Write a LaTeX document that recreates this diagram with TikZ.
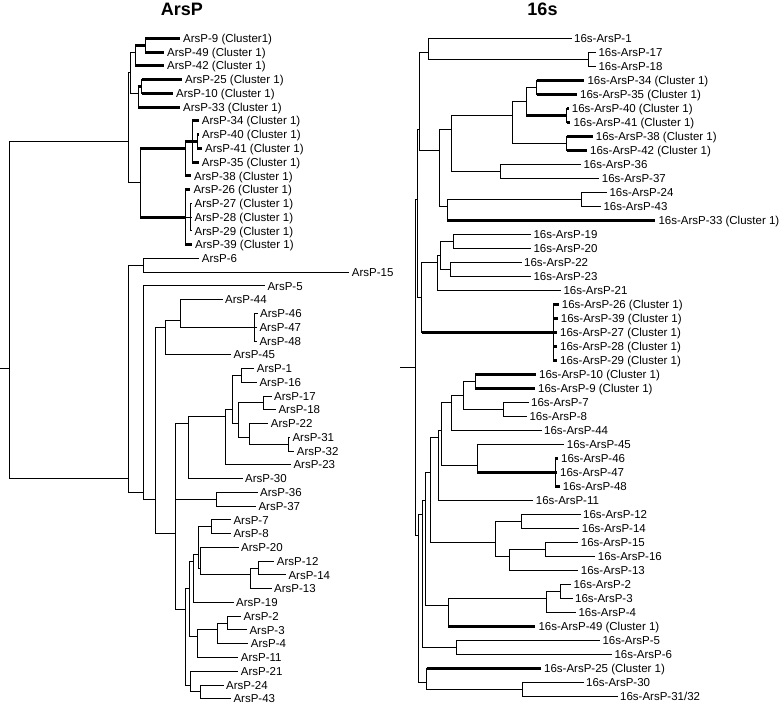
\documentclass[tikz,border=0pt]{standalone}
\usepackage{fontspec}
\setmainfont{Liberation Sans}
\newcommand\Ly[1]{(38.3+13.76*(#1))}
\newcommand\Ry[1]{(38.3+14.0*(#1))}
\newcommand\br[3][]{\draw[tl] (#2) -- (#2 |- #3); \draw[tl,#1] (#2 |- #3) -- (#3);}
\tikzset{
  tl/.style={line width=1pt, line cap=rect},
  thk/.style={line width=3pt, line cap=butt},
  lab/.style={anchor=west, inner xsep=3pt, inner ysep=0pt, text height=8.2pt, text depth=0pt, font=\fontsize{11.5}{13}\selectfont},
  ttl/.style={inner sep=0pt, font=\fontsize{18}{20}\selectfont\bfseries}
}
\begin{document}
\begin{tikzpicture}[x=1pt,y=-1pt]
\useasboundingbox (0,0) rectangle (779,704);
\node[ttl] (tA) at (182,9) {ArsP};
\node[ttl] (tB) at (542.5,9) {16s};
% ================= LEFT TREE =================
\coordinate (aR0) at (0,{\Ly{24}});
\coordinate (aRoot) at (9,{\Ly{24}});
\coordinate (aTop) at (128,{\Ly{7.5}});
\coordinate (aUp) at (130,{\Ly{2.5}});
\coordinate (a942) at (135,{\Ly{1}});
\coordinate (a949) at (145,{\Ly{0.5}});
\coordinate (a2533) at (138.3,{\Ly{4}});
\coordinate (a2510) at (141.7,{\Ly{3.5}});
\coordinate (aLow) at (140,{\Ly{10.5}});
\coordinate (aB) at (185,{\Ly{8}});
\coordinate (aA) at (192,{\Ly{7.5}});
\coordinate (a4041) at (197,{\Ly{7.5}});
\coordinate (aC) at (185,{\Ly{13}});
\coordinate (a2729) at (190.5,{\Ly{13}});
\coordinate (aBot) at (128,{\Ly{32}});
\coordinate (a615) at (143.3,{\Ly{16.5}});
\coordinate (aB2) at (143.3,{\Ly{33}});
\coordinate (aB3) at (155,{\Ly{33.5}});
\coordinate (a44c) at (165,{\Ly{21}});
\coordinate (a4448) at (180.7,{\Ly{20.5}});
\coordinate (a4648) at (254,{\Ly{21}});
\coordinate (aB4) at (175.7,{\Ly{36}});
\coordinate (aC1) at (188.3,{\Ly{28}});
\coordinate (aC1a) at (225,{\Ly{27.5}});
\coordinate (aC1b) at (232.3,{\Ly{27}});
\coordinate (a116) at (241.7,{\Ly{24.5}});
\coordinate (aC1c) at (238.3,{\Ly{28}});
\coordinate (a1718) at (263.3,{\Ly{26.5}});
\coordinate (a2232) at (249.3,{\Ly{29}});
\coordinate (a3132) at (288.3,{\Ly{29.5}});
\coordinate (a3637) at (216.7,{\Ly{33.5}});
\coordinate (aC3) at (185,{\Ly{41.5}});
\coordinate (aC3a) at (189.3,{\Ly{40}});
\coordinate (aC3b) at (193.3,{\Ly{38}});
\coordinate (aC3c) at (198,{\Ly{37.5}});
\coordinate (a78) at (211.7,{\Ly{35.5}});
\coordinate (aC3d) at (200,{\Ly{38.5}});
\coordinate (a121413) at (250,{\Ly{39}});
\coordinate (a1214) at (258.3,{\Ly{38.5}});
\coordinate (a2311) at (197.7,{\Ly{43.5}});
\coordinate (a234) at (217.3,{\Ly{43}});
\coordinate (a23) at (227.7,{\Ly{42.5}});
\coordinate (a2143) at (190,{\Ly{47}});
\coordinate (a2443) at (200,{\Ly{47.5}});
% left leaves
\node[lab] (aL9) at (180,{\Ly{0}}) {ArsP-9 (Cluster1)};
\node[lab] (aL49) at (164,{\Ly{1}}) {ArsP-49 (Cluster 1)};
\node[lab] (aL42) at (164,{\Ly{2}}) {ArsP-42 (Cluster 1)};
\node[lab] (aL25) at (182,{\Ly{3}}) {ArsP-25 (Cluster 1)};
\node[lab] (aL10) at (173,{\Ly{4}}) {ArsP-10 (Cluster 1)};
\node[lab] (aL33) at (180,{\Ly{5}}) {ArsP-33 (Cluster 1)};
\node[lab] (aL34) at (198.7,{\Ly{6}}) {ArsP-34 (Cluster 1)};
\node[lab] (aL40) at (199,{\Ly{7}}) {ArsP-40 (Cluster 1)};
\node[lab] (aL41) at (202,{\Ly{8}}) {ArsP-41 (Cluster 1)};
\node[lab] (aL35) at (198.7,{\Ly{9}}) {ArsP-35 (Cluster 1)};
\node[lab] (aL38) at (191,{\Ly{10}}) {ArsP-38 (Cluster 1)};
\node[lab] (aL26) at (190.3,{\Ly{11}}) {ArsP-26 (Cluster 1)};
\node[lab] (aL27) at (191.5,{\Ly{12}}) {ArsP-27 (Cluster 1)};
\node[lab] (aL28) at (191.5,{\Ly{13}}) {ArsP-28 (Cluster 1)};
\node[lab] (aL29) at (191.5,{\Ly{14}}) {ArsP-29 (Cluster 1)};
\node[lab] (aL39) at (192,{\Ly{15}}) {ArsP-39 (Cluster 1)};
\node[lab] (aL6) at (198.7,{\Ly{16}}) {ArsP-6};
\node[lab] (aL15) at (348.7,{\Ly{17}}) {ArsP-15};
\node[lab] (aL5) at (264.3,{\Ly{18}}) {ArsP-5};
\node[lab] (aL44) at (222,{\Ly{19}}) {ArsP-44};
\node[lab] (aL46) at (257,{\Ly{20}}) {ArsP-46};
\node[lab] (aL47) at (256.3,{\Ly{21}}) {ArsP-47};
\node[lab] (aL48) at (256.3,{\Ly{22}}) {ArsP-48};
\node[lab] (aL45) at (230.3,{\Ly{23}}) {ArsP-45};
\node[lab] (aL1) at (253.7,{\Ly{24}}) {ArsP-1};
\node[lab] (aL16) at (256.3,{\Ly{25}}) {ArsP-16};
\node[lab] (aL17) at (271,{\Ly{26}}) {ArsP-17};
\node[lab] (aL18) at (275.3,{\Ly{27}}) {ArsP-18};
\node[lab] (aL22) at (267.7,{\Ly{28}}) {ArsP-22};
\node[lab] (aL31) at (289.3,{\Ly{29}}) {ArsP-31};
\node[lab] (aL32) at (293.7,{\Ly{30}}) {ArsP-32};
\node[lab] (aL23) at (290.3,{\Ly{31}}) {ArsP-23};
\node[lab] (aL30) at (242,{\Ly{32}}) {ArsP-30};
\node[lab] (aL36) at (257,{\Ly{33}}) {ArsP-36};
\node[lab] (aL37) at (255.3,{\Ly{34}}) {ArsP-37};
\node[lab] (aL7) at (230.3,{\Ly{35}}) {ArsP-7};
\node[lab] (aL8) at (230.3,{\Ly{36}}) {ArsP-8};
\node[lab] (aL20) at (238,{\Ly{37}}) {ArsP-20};
\node[lab] (aL12) at (273.7,{\Ly{38}}) {ArsP-12};
\node[lab] (aL14) at (285.3,{\Ly{39}}) {ArsP-14};
\node[lab] (aL13) at (271,{\Ly{40}}) {ArsP-13};
\node[lab] (aL19) at (233,{\Ly{41}}) {ArsP-19};
\node[lab] (aL2) at (240.3,{\Ly{42}}) {ArsP-2};
\node[lab] (aL3) at (246.3,{\Ly{43}}) {ArsP-3};
\node[lab] (aL4) at (247.7,{\Ly{44}}) {ArsP-4};
\node[lab] (aL11) at (237.7,{\Ly{45}}) {ArsP-11};
\node[lab] (aL21) at (237.7,{\Ly{46}}) {ArsP-21};
\node[lab] (aL24) at (223,{\Ly{47}}) {ArsP-24};
\node[lab] (aL43) at (230.3,{\Ly{48}}) {ArsP-43};
% left edges
\draw[tl] (aR0) -- (aRoot);
\br{aRoot}{aTop} \br{aRoot}{aBot}
\br{aTop}{aUp} \br{aTop}{aLow}
\br{aUp}{a942} \br{aUp}{a2533}
\br[thk]{a942}{a949} \br[thk]{a942}{aL42}
\br[thk]{a949}{aL9} \br[thk]{a949}{aL49}
\br[thk]{a2533}{a2510} \br[thk]{a2533}{aL33}
\br[thk]{a2510}{aL25} \br[thk]{a2510}{aL10}
\br[thk]{aLow}{aB} \br[thk]{aLow}{aC}
\br[thk]{aB}{aA} \br[thk]{aB}{aL38}
\br[thk]{aA}{aL34} \br[thk]{aA}{a4041} \br[thk]{aA}{aL35}
\br[thk]{a4041}{aL40} \br[thk]{a4041}{aL41}
\br[thk]{aC}{aL26} \br{aC}{a2729} \br[thk]{aC}{aL39}
\br{a2729}{aL27} \br{a2729}{aL28} \br{a2729}{aL29}
\br{aBot}{a615} \br{aBot}{aB2}
\br{a615}{aL6} \br{a615}{aL15}
\br{aB2}{aL5} \br{aB2}{aB3}
\br{aB3}{a44c} \br{aB3}{aB4}
\br{a44c}{a4448} \br{a44c}{aL45}
\br{a4448}{aL44} \br{a4448}{a4648}
\br{a4648}{aL46} \br{a4648}{aL47} \br{a4648}{aL48}
\br{aB4}{aC1} \br{aB4}{a3637} \br{aB4}{aC3}
\br{aC1}{aC1a} \br{aC1}{aL30}
\br{aC1a}{aC1b} \br{aC1a}{aL23}
\br{aC1b}{a116} \br{aC1b}{aC1c}
\br{a116}{aL1} \br{a116}{aL16}
\br{aC1c}{a1718} \br{aC1c}{a2232}
\br{a1718}{aL17} \br{a1718}{aL18}
\br{a2232}{aL22} \br{a2232}{a3132}
\br{a3132}{aL31} \br{a3132}{aL32}
\br{a3637}{aL36} \br{a3637}{aL37}
\br{aC3}{aC3a} \br{aC3}{a2143}
\br{aC3a}{aC3b} \br{aC3a}{a2311}
\br{aC3b}{aC3c} \br{aC3b}{aL19}
\br{aC3c}{a78} \br{aC3c}{aC3d}
\br{a78}{aL7} \br{a78}{aL8}
\br{aC3d}{aL20} \br{aC3d}{a121413}
\br{a121413}{a1214} \br{a121413}{aL13}
\br{a1214}{aL12} \br{a1214}{aL14}
\br{a2311}{a234} \br{a2311}{aL11}
\br{a234}{a23} \br{a234}{aL4}
\br{a23}{aL2} \br{a23}{aL3}
\br{a2143}{aL21} \br{a2143}{a2443}
\br{a2443}{aL24} \br{a2443}{aL43}
% ================= RIGHT TREE =================
\coordinate (bR0) at (400,{\Ry{23.5}});
\coordinate (bRoot) at (415,{\Ry{23.5}});
\coordinate (bT) at (417.5,{\Ry{11.5}});
\coordinate (bNp) at (419.5,{\Ry{6.5}});
\coordinate (b02) at (428.3,{\Ry{1}});
\coordinate (b1718) at (588.3,{\Ry{1.5}});
\coordinate (b313) at (439.3,{\Ry{8}});
\coordinate (b310) at (451.7,{\Ry{6.5}});
\coordinate (b38) at (512.7,{\Ry{5.5}});
\coordinate (b36) at (526,{\Ry{4.5}});
\coordinate (b3435) at (536.7,{\Ry{3.5}});
\coordinate (b4041) at (566.7,{\Ry{5.5}});
\coordinate (b3842) at (566.7,{\Ry{7.5}});
\coordinate (b3637) at (500,{\Ry{9.5}});
\coordinate (b1113) at (447.3,{\Ry{12}});
\coordinate (b2443) at (581.7,{\Ry{11.5}});
\coordinate (b1423) at (421.7,{\Ry{18.5}});
\coordinate (b1921) at (437.7,{\Ry{16}});
\coordinate (b1923) at (440,{\Ry{15.5}});
\coordinate (b1920) at (453.3,{\Ry{14.5}});
\coordinate (b2223) at (450,{\Ry{16.5}});
\coordinate (b26c) at (553.3,{\Ry{21}});
\coordinate (bU) at (418.3,{\Ry{35.5}});
\coordinate (b2444) at (422.7,{\Ry{34}});
\coordinate (bW) at (425,{\Ry{33}});
\coordinate (bV) at (430,{\Ry{31}});
\coordinate (b2433) at (438.3,{\Ry{28.5}});
\coordinate (b2432) at (441,{\Ry{28}});
\coordinate (b2428) at (451.7,{\Ry{26}});
\coordinate (b2427) at (463.3,{\Ry{25.5}});
\coordinate (b109) at (475,{\Ry{24.5}});
\coordinate (b78) at (503.3,{\Ry{26.5}});
\coordinate (b2932) at (477.3,{\Ry{30.5}});
\coordinate (b4648) at (555,{\Ry{31}});
\coordinate (b3438) at (495,{\Ry{36}});
\coordinate (b1214) at (521.7,{\Ry{34.5}});
\coordinate (b151613) at (509.3,{\Ry{37}});
\coordinate (b1516) at (545,{\Ry{36.5}});
\coordinate (b2349) at (448.3,{\Ry{40.5}});
\coordinate (b234) at (546.7,{\Ry{40}});
\coordinate (b23) at (560,{\Ry{39.5}});
\coordinate (b56) at (456.7,{\Ry{43.5}});
\coordinate (b4547) at (426.7,{\Ry{46}});
\coordinate (b3032) at (522.7,{\Ry{46.5}});
% right leaves
\node[lab] (bL1) at (571,{\Ry{0}}) {16s-ArsP-1};
\node[lab] (bL17) at (595.3,{\Ry{1}}) {16s-ArsP-17};
\node[lab] (bL18) at (595.3,{\Ry{2}}) {16s-ArsP-18};
\node[lab] (bL34) at (584.3,{\Ry{3}}) {16s-ArsP-34 (Cluster 1)};
\node[lab] (bL35) at (577,{\Ry{4}}) {16s-ArsP-35 (Cluster 1)};
\node[lab] (bL40) at (568.7,{\Ry{5}}) {16s-ArsP-40 (Cluster 1)};
\node[lab] (bL41) at (570.3,{\Ry{6}}) {16s-ArsP-41 (Cluster 1)};
\node[lab] (bL38) at (592.7,{\Ry{7}}) {16s-ArsP-38 (Cluster 1)};
\node[lab] (bL42) at (587,{\Ry{8}}) {16s-ArsP-42 (Cluster 1)};
\node[lab] (bL36) at (580.3,{\Ry{9}}) {16s-ArsP-36};
\node[lab] (bL37) at (598.7,{\Ry{10}}) {16s-ArsP-37};
\node[lab] (bL24) at (606.3,{\Ry{11}}) {16s-ArsP-24};
\node[lab] (bL43) at (600.3,{\Ry{12}}) {16s-ArsP-43};
\node[lab] (bL33) at (655.3,{\Ry{13}}) {16s-ArsP-33 (Cluster 1)};
\node[lab] (bL19) at (530.3,{\Ry{14}}) {16s-ArsP-19};
\node[lab] (bL20) at (530.3,{\Ry{15}}) {16s-ArsP-20};
\node[lab] (bL22) at (521,{\Ry{16}}) {16s-ArsP-22};
\node[lab] (bL23) at (530.3,{\Ry{17}}) {16s-ArsP-23};
\node[lab] (bL21) at (560.3,{\Ry{18}}) {16s-ArsP-21};
\node[lab] (bL26) at (558.7,{\Ry{19}}) {16s-ArsP-26 (Cluster 1)};
\node[lab] (bL39) at (557.7,{\Ry{20}}) {16s-ArsP-39 (Cluster 1)};
\node[lab] (bL27) at (557,{\Ry{21}}) {16s-ArsP-27 (Cluster 1)};
\node[lab] (bL28) at (557,{\Ry{22}}) {16s-ArsP-28 (Cluster 1)};
\node[lab] (bL29) at (557,{\Ry{23}}) {16s-ArsP-29 (Cluster 1)};
\node[lab] (bL10) at (536,{\Ry{24}}) {16s-ArsP-10 (Cluster 1)};
\node[lab] (bL9) at (535,{\Ry{25}}) {16s-ArsP-9 (Cluster 1)};
\node[lab] (bL7) at (528,{\Ry{26}}) {16s-ArsP-7};
\node[lab] (bL8) at (526.3,{\Ry{27}}) {16s-ArsP-8};
\node[lab] (bL44) at (541,{\Ry{28}}) {16s-ArsP-44};
\node[lab] (bL45) at (563.7,{\Ry{29}}) {16s-ArsP-45};
\node[lab] (bL46) at (558,{\Ry{30}}) {16s-ArsP-46};
\node[lab] (bL47) at (557,{\Ry{31}}) {16s-ArsP-47};
\node[lab] (bL48) at (559.7,{\Ry{32}}) {16s-ArsP-48};
\node[lab] (bL11) at (532.7,{\Ry{33}}) {16s-ArsP-11};
\node[lab] (bL12) at (580,{\Ry{34}}) {16s-ArsP-12};
\node[lab] (bL14) at (578.7,{\Ry{35}}) {16s-ArsP-14};
\node[lab] (bL15) at (577.7,{\Ry{36}}) {16s-ArsP-15};
\node[lab] (bL16) at (594.7,{\Ry{37}}) {16s-ArsP-16};
\node[lab] (bL13) at (577.7,{\Ry{38}}) {16s-ArsP-13};
\node[lab] (bL2) at (570.3,{\Ry{39}}) {16s-ArsP-2};
\node[lab] (bL3) at (572,{\Ry{40}}) {16s-ArsP-3};
\node[lab] (bL4) at (575.3,{\Ry{41}}) {16s-ArsP-4};
\node[lab] (bL49) at (535.3,{\Ry{42}}) {16s-ArsP-49 (Cluster 1)};
\node[lab] (bL5) at (599.3,{\Ry{43}}) {16s-ArsP-5};
\node[lab] (bL6) at (611.3,{\Ry{44}}) {16s-ArsP-6};
\node[lab] (bL25) at (541,{\Ry{45}}) {16s-ArsP-25 (Cluster 1)};
\node[lab] (bL30) at (583,{\Ry{46}}) {16s-ArsP-30};
\node[lab] (bL3132) at (617,{\Ry{47}}) {16s-ArsP-31/32};
% right edges
\draw[tl] (bR0) -- (bRoot);
\br{bRoot}{bT} \br{bRoot}{bU}
\br{bT}{bNp} \br{bT}{b1423}
\br{bNp}{b02} \br{bNp}{b313}
\br{b02}{bL1} \br{b02}{b1718}
\br{b1718}{bL17} \br{b1718}{bL18}
\br{b313}{b310} \br{b313}{b1113}
\br{b310}{b38} \br{b310}{b3637}
\br{b38}{b36} \br{b38}{b3842}
\br{b36}{b3435} \br[thk]{b36}{b4041}
\br[thk]{b3435}{bL34} \br[thk]{b3435}{bL35}
\br[thk]{b4041}{bL40} \br[thk]{b4041}{bL41}
\br[thk]{b3842}{bL38} \br[thk]{b3842}{bL42}
\br{b3637}{bL36} \br{b3637}{bL37}
\br{b1113}{b2443} \br[thk]{b1113}{bL33}
\br{b2443}{bL24} \br{b2443}{bL43}
\br{b1423}{b1921} \br[thk]{b1423}{b26c}
\br{b1921}{b1923} \br{b1921}{bL21}
\br{b1923}{b1920} \br{b1923}{b2223}
\br{b1920}{bL19} \br{b1920}{bL20}
\br{b2223}{bL22} \br{b2223}{bL23}
\br[thk]{b26c}{bL26} \br[thk]{b26c}{bL39} \br[thk]{b26c}{bL27} \br[thk]{b26c}{bL28} \br[thk]{b26c}{bL29}
\br{bU}{b2444} \br{bU}{b4547}
\br{b2444}{bW} \br{b2444}{b56}
\br{bW}{bV} \br{bW}{b2349}
\br{bV}{b2433} \br{bV}{b3438}
\br{b2433}{b2432} \br{b2433}{bL11}
\br{b2432}{b2428} \br{b2432}{b2932}
\br{b2428}{b2427} \br{b2428}{bL44}
\br{b2427}{b109} \br{b2427}{b78}
\br[thk]{b109}{bL10} \br[thk]{b109}{bL9}
\br{b78}{bL7} \br{b78}{bL8}
\br{b2932}{bL45} \br[thk]{b2932}{b4648}
\br[thk]{b4648}{bL46} \br[thk]{b4648}{bL47} \br[thk]{b4648}{bL48}
\br{b3438}{b1214} \br{b3438}{b151613}
\br{b1214}{bL12} \br{b1214}{bL14}
\br{b151613}{b1516} \br{b151613}{bL13}
\br{b1516}{bL15} \br{b1516}{bL16}
\br{b2349}{b234} \br[thk]{b2349}{bL49}
\br{b234}{b23} \br{b234}{bL4}
\br{b23}{bL2} \br{b23}{bL3}
\br{b56}{bL5} \br{b56}{bL6}
\br[thk]{b4547}{bL25} \br{b4547}{b3032}
\br{b3032}{bL30} \br{b3032}{bL3132}
\end{tikzpicture}
\end{document}
